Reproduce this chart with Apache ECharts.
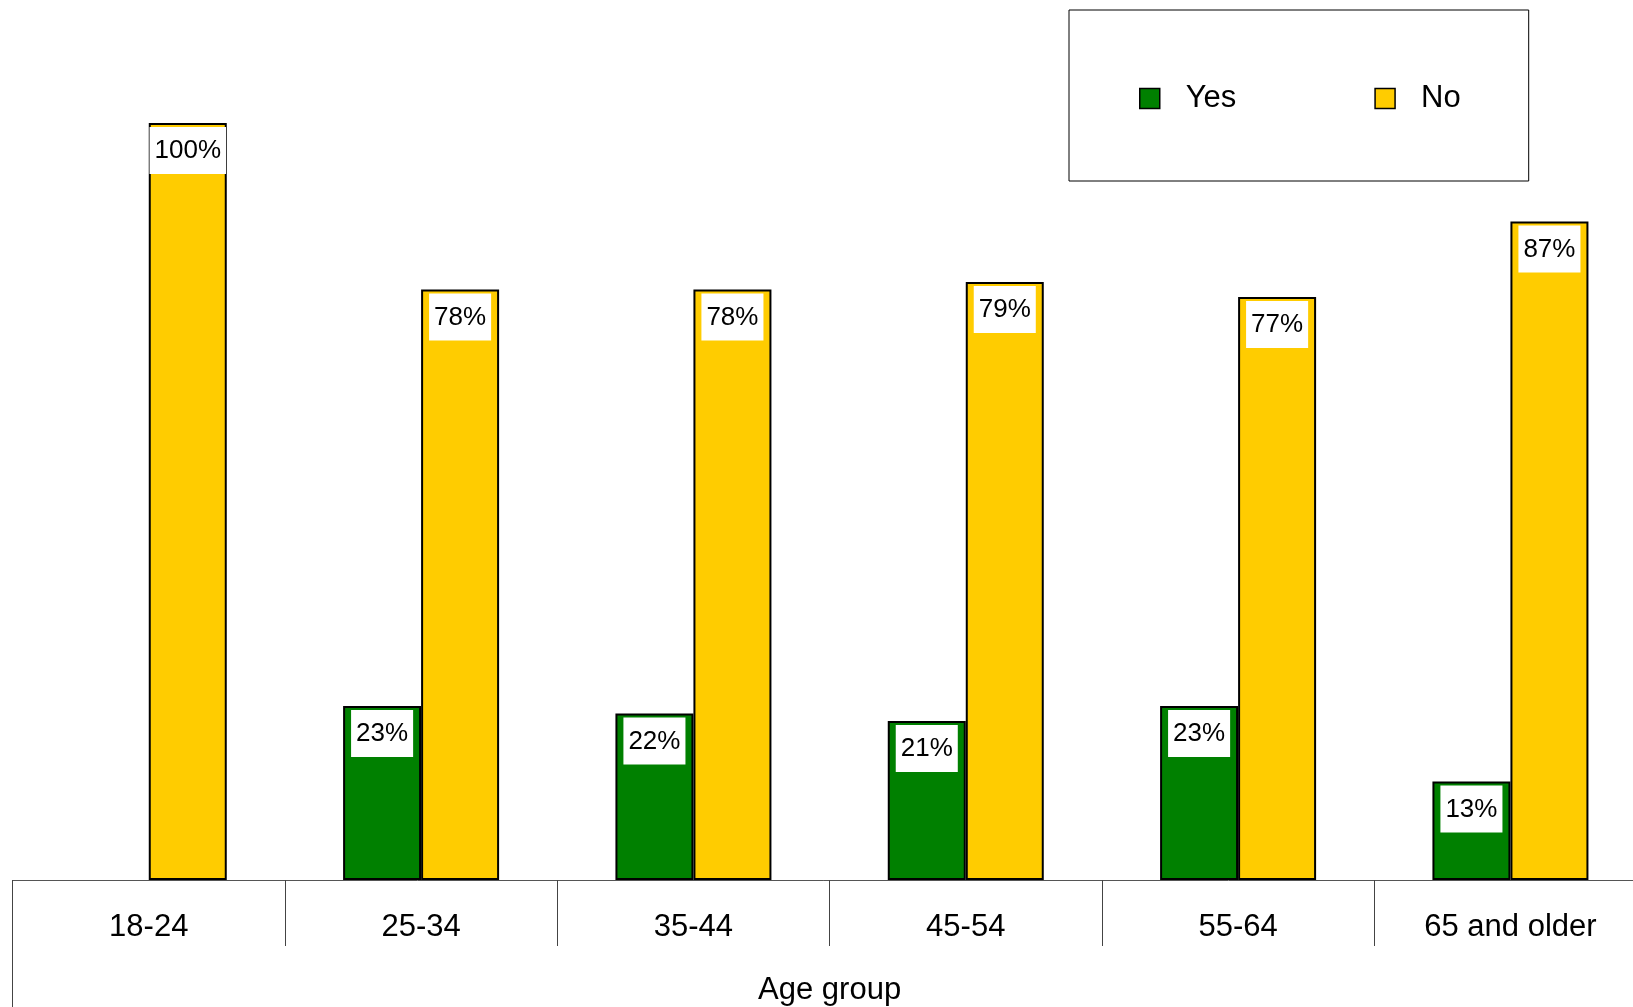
<!DOCTYPE html>
<html>
<head>
<meta charset="utf-8">
<script src="https://cdn.jsdelivr.net/npm/echarts@6/dist/echarts.min.js"></script>
<style>html,body{margin:0;padding:0;background:#fff;overflow:hidden}#c{width:1633px;height:1007px}</style>
</head>
<body>
<div id="c"></div>
<script>
const categories = ['18-24', '25-34', '35-44', '45-54', '55-64', '65 and older'];
const yesValues = [null, 23, 22, 21, 23, 13];
const noValues = [100, 78, 78, 79, 77, 87];
const seriesNames = ['Yes', 'No'];
const seriesColors = ['#008000', '#FFCC00'];
const axisTitle = 'Age group';

const FONT = '"Liberation Sans", Arial, sans-serif';
const chart = echarts.init(document.getElementById('c'), null, {renderer: 'canvas'});

function barSeries(name, data, color) {
  return {
    name: name,
    type: 'bar',
    data: data,
    barWidth: 78,
    barGap: '0%',
    itemStyle: {color: color, borderColor: '#000', borderWidth: 2},
    label: {
      show: true,
      position: 'insideTop',
      distance: 4,
      formatter: '{c}%',
      color: '#000',
      fontFamily: FONT,
      fontSize: 26,
      lineHeight: 26,
      backgroundColor: '#fff',
      padding: [11, 5, 10, 5]
    }
  };
}

chart.setOption({
  animation: false,
  backgroundColor: '#fff',
  textStyle: {fontFamily: FONT},
  legend: {
    data: seriesNames,
    left: 1069,
    top: 10,
    orient: 'horizontal',
    icon: 'rect',
    itemWidth: 20,
    itemHeight: 20,
    itemGap: 138,
    padding: [73, 68, 67, 70],
    borderColor: '#000',
    borderWidth: 1,
    itemStyle: {borderColor: '#000', borderWidth: 1.5},
    textStyle: {color: '#000', fontSize: 31, fontFamily: FONT, lineHeight: 31, padding: [0, 0, 0, 21]}
  },
  grid: {left: 12.6, width: 1634, top: 123, bottom: 127, containLabel: false, outerBoundsMode: 'none'},
  xAxis: [{
    type: 'category',
    data: categories,
    boundaryGap: true,
    axisLine: {show: true, lineStyle: {color: '#555', width: 1}},
    axisTick: {show: true, length: 66, lineStyle: {color: '#444', width: 1}},
    axisLabel: {color: '#000', fontSize: 31, fontFamily: FONT, margin: 32, lineHeight: 31, interval: 0},
    name: axisTitle,
    nameLocation: 'middle',
    nameGap: 95,
    nameTextStyle: {color: '#000', fontSize: 31, fontFamily: FONT, lineHeight: 31}
  }, {
    type: 'category',
    data: categories,
    position: 'bottom',
    boundaryGap: true,
    axisLine: {show: false},
    axisLabel: {show: false},
    axisTick: {show: true, length: 130, interval: function (i) { return i === 0; }, lineStyle: {color: '#444', width: 1}}
  }],
  yAxis: {type: 'value', min: 0, max: 100, show: false},
  series: [
    barSeries(seriesNames[0], yesValues, seriesColors[0]),
    barSeries(seriesNames[1], noValues, seriesColors[1])
  ]
});
</script>
</body>
</html>
